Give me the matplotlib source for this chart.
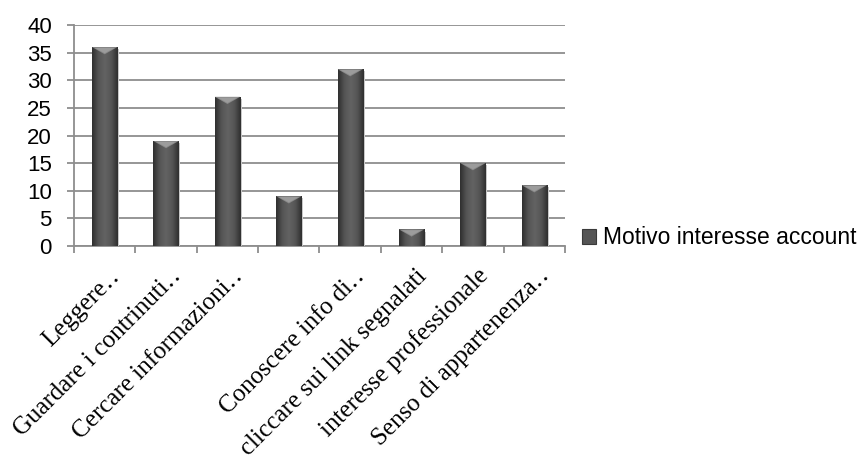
import numpy as np
import matplotlib.pyplot as plt
from matplotlib.colors import LinearSegmentedColormap
from matplotlib.patches import Polygon, Patch
from matplotlib.transforms import ScaledTranslation

# data
categories = ["Leggere\u2025", "Guardare i contrinuti\u2025", "Cercare informazioni\u2025", "",
              "Conoscere info di\u2025", "cliccare sui link segnalati",
              "interesse professionale", "Senso di appartenenza\u2025"]
values = [36, 19, 27, 9, 32, 3, 15, 11]
series_name = "Motivo interesse account"
yticks = [0, 5, 10, 15, 20, 25, 30, 35, 40]

grid_col = "#8e8e8e"
sans = ["Liberation Sans", "DejaVu Sans"]
serif = ["Liberation Serif", "DejaVu Serif"]

fig = plt.figure(figsize=(8.62, 4.63), dpi=100)
ax = fig.add_axes([74 / 862, 1 - 246 / 463, 491 / 862, 221 / 463])

x = np.arange(len(values))
bw = 0.41
bars = ax.bar(x, values, width=bw, color="#4c4c4c", edgecolor="none", zorder=3)

# horizontal shading inside each bar
cmap = LinearSegmentedColormap.from_list("barshade", ["#2f2f2f", "#555555", "#636363", "#555555", "#2f2f2f"])
grad = np.linspace(0, 1, 64).reshape(1, -1)
for b in bars:
    x0, w, h = b.get_x(), b.get_width(), b.get_height()
    im = ax.imshow(grad, cmap=cmap, aspect="auto", extent=[x0, x0 + w, 0, h],
                   zorder=3.5, interpolation="bicubic")
    im.set_clip_path(b)
    # faint shadow on the right
    ax.add_patch(plt.Rectangle((x0 + w, 0), 0.03, h - 0.4, color="#c8c8c8", lw=0, zorder=2.9))
    # bevelled top
    bev = 1.3
    ax.add_patch(Polygon([(x0, h), (x0 + w, h), (x0 + w / 2, h - bev)], closed=True,
                         facecolor="#8a8a8a", edgecolor="none", zorder=4))
    ax.add_patch(Polygon([(x0 + w * 0.12, h - 0.15), (x0 + w * 0.88, h - 0.15), (x0 + w / 2, h - bev * 0.85)],
                         closed=True, facecolor="#9c9c9c", edgecolor="none", zorder=4.1))

ax.set_xlim(-0.5, len(values) - 0.5)
ax.set_ylim(0, 40)
ax.set_yticks(yticks)
ax.set_yticklabels([str(v) for v in yticks], family=sans, fontsize=16, color="black")
ax.yaxis.grid(True, color=grid_col, lw=1.3, zorder=1)
ax.set_axisbelow(True)

for s in ["top", "right"]:
    ax.spines[s].set_visible(False)
for s in ["left", "bottom"]:
    ax.spines[s].set_color(grid_col)
    ax.spines[s].set_linewidth(1.3)

ax.tick_params(axis="y", length=5, width=1.3, color=grid_col, pad=11)

# ticks at category boundaries, labels at centres
ax.set_xticks(np.arange(-0.5, len(values), 1.0))
ax.set_xticklabels([])
ax.tick_params(axis="x", which="major", length=5, width=1.3, color=grid_col, direction="out")
ax.set_xticks(x, minor=True)
ax.set_xticklabels(categories, minor=True, family=serif, fontsize=18,
                   rotation=45, ha="right", rotation_mode="anchor")
ax.tick_params(axis="x", which="minor", length=0, pad=0)
shift = ScaledTranslation(16 / 100, -31 / 100, fig.dpi_scale_trans)
for lab in ax.get_xticklabels(minor=True):
    lab.set_va("baseline")
    lab.set_transform(lab.get_transform() + shift)

handle = Patch(facecolor="#555555", edgecolor="#3a3a3a", lw=0.8)
fig.legend([handle], [series_name], loc="center left",
           bbox_to_anchor=(582 / 862, 1 - 238 / 463), frameon=False,
           prop={"family": sans, "size": 16.5}, handlelength=0.6, handleheight=0.6,
           handletextpad=0.3, borderaxespad=0, borderpad=0)

fig.savefig("out.png", dpi=100)
